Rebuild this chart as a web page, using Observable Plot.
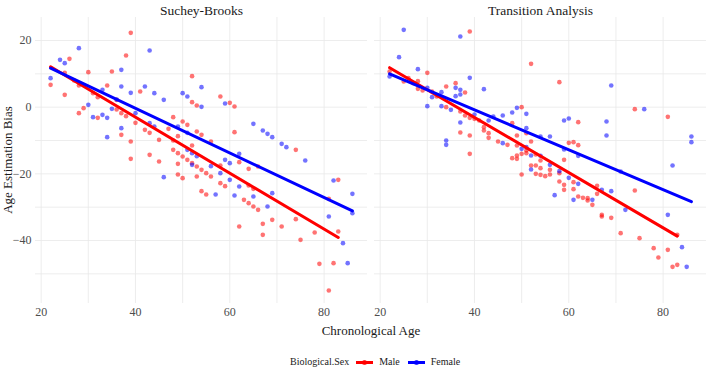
<!DOCTYPE html>
<html><head><meta charset="utf-8">
<script src="https://cdn.jsdelivr.net/npm/d3@7"></script>
<script src="https://cdn.jsdelivr.net/npm/@observablehq/plot@0.6"></script>
<style>
body{margin:0;background:#fff;}
#wrap{position:relative;width:709px;height:370px;font-family:"Liberation Serif","Times New Roman",serif;color:#1a1a1a;}
#xlab{position:absolute;left:271px;width:200px;top:324px;text-align:center;font-size:13px;line-height:14px;font-family:"Liberation Serif",serif;}
#ylab{position:absolute;left:-92px;width:200px;top:153px;text-align:center;font-size:13px;line-height:14px;transform:rotate(-90deg);font-family:"Liberation Serif",serif;}
#legend{position:absolute;left:290px;top:355px;height:14px;display:flex;align-items:center;font-size:10px;line-height:14px;color:#1a1a1a;white-space:nowrap;font-family:"Liberation Serif",serif;}
.sw{display:inline-block;position:relative;width:17px;height:3px;}
.sw i{position:absolute;left:6px;top:-1px;width:5px;height:5px;border-radius:50%;opacity:0.8;}
</style></head>
<body><div id="wrap"><div id="chart"></div>
<div id="xlab"></div><div id="ylab"></div><div id="legend"></div></div>
<script>
const methods = ["Suchey-Brooks", "Transition Analysis"];
const sexes = ["Male", "Female"];
const sexColors = ["red", "blue"];
const xTicks = [20, 40, 60, 80];
const yTicks = [20, 0, -20, -40];
const xLabel = "Chronological Age";
const yLabel = "Age Estimation Bias";
const legendTitle = "Biological.Sex";

// Suchey-Brooks
const sbMaleAge = [22,25,25,26,27,28,28,29,30,31,32,32,34,35,36,36,37,37,38,38,39,39,39,40,41,42,43,43,45,45,47,48,48,48,49,49,49,49,50,50,50,51,51,52,52,52,52,53,53,53,53,54,54,54,55,55,56,56,58,58,58,59,60,61,61,62,62,63,64,64,64,65,65,66,66,67,67,69,71,74,74,75,78,79,81,81,82,83,83];
const sbMaleBias = [6.7,10.3,3.7,14.5,8.0,6.5,-1.8,-0.3,10.5,4.2,3.0,-3.2,6.5,10.7,2.2,-0.7,-1.8,-8.3,15.5,-2.7,22.3,-10.3,-15.5,-4.7,4.7,-6.8,-7.7,-14.3,-9.8,-16.3,-6.5,-3.0,-10.0,-12.8,-8.7,-13.8,-17.0,-20.2,-4.3,-14.8,-21.3,-5.3,-15.8,9.3,1.5,-11.5,-16.8,0.5,-7.3,-17.8,-20.8,-8.3,-18.8,-25.2,-19.8,-26.2,-10.3,-20.8,3.2,-17.5,-22.8,-23.7,1.3,0.2,-7.5,-16.5,-35.8,-27.8,-18.5,-23.5,-28.8,-24.5,-29.8,-17.8,-30.8,-35.0,-38.3,-33.8,-35.8,-12.8,-33.6,-39.8,-37.6,-47.0,-27.5,-55.0,-46.8,-21.8,-37.3];
const sbFemaleAge = [22,24,25,28,30,31,33,33,34,34,35,36,37,37,37,39,40,42,43,43,44,44,46,46,49,50,51,51,51,52,52,53,54,54,56,57,58,59,59,60,60,61,62,62,65,65,67,68,68,69,69,71,72,76,81,82,84,85,86,86];
const sbFemaleBias = [8.7,14.2,13.2,17.7,0.7,-3.0,5.2,-2.3,-3.2,-9.0,-0.5,2.3,11.2,6.2,-6.3,4.3,-1.8,6.2,17.0,-4.8,4.2,-5.8,2.2,-21.0,-5.8,4.2,3.2,-7.7,-12.8,-13.8,-17.3,-14.7,6.0,0.1,-17.7,-26.2,-19.8,1.1,-15.8,-16.8,-21.8,-26.5,-14.0,-23.8,-5.0,-26.8,-7.0,-8.0,-29.8,-9.0,-25.8,-11.0,-12.0,-16.0,-32.8,-22.0,-40.8,-46.8,-26.0,-31.8];

// Transition Analysis
const taMaleAge = [22,25,26,27,28,28,29,30,31,32,34,34,36,37,37,38,38,39,39,39,39,40,41,42,42,43,43,45,47,48,48,49,49,49,49,50,50,50,51,51,51,52,52,52,53,53,53,54,54,54,55,56,56,58,58,58,59,59,59,60,61,61,61,62,62,62,63,64,64,65,66,66,67,67,69,71,74,74,75,78,79,81,81,82,83,83];
const taMaleBias = [10.7,7.7,8.7,7.2,7.8,5.5,5.0,10.3,4.7,3.2,6.2,0.0,7.2,-1.3,-7.6,4.4,-2.5,22.7,-3.2,-8.5,-14.0,-3.5,-4.0,-6.0,-7.0,-7.8,-9.2,-10.3,-11.3,-4.8,-15.3,-8.5,-11.5,-14.5,-15.5,0.0,-14.0,-20.2,-7.8,-13.0,-13.8,13.0,-10.3,-17.5,-14.2,-17.5,-20.0,-16.0,-18.3,-20.3,-20.7,-18.8,-20.2,7.5,-19.8,-22.3,-15.8,-23.3,-24.8,-10.7,-10.5,-22.5,-24.6,-4.5,-11.4,-26.8,-27.2,-27.3,-28.0,-29.3,-23.6,-26.0,-32.3,-32.8,-33.2,-37.8,-0.6,-25.0,-39.3,-42.3,-45.1,-2.9,-42.8,-47.9,-47.3,-38.3];
const taFemaleAge = [22,24,25,28,30,30,31,33,33,34,34,35,36,36,37,37,37,37,39,40,42,43,44,46,46,48,49,50,51,51,51,52,52,54,54,56,56,57,58,59,59,60,60,61,62,62,65,67,68,68,69,69,71,72,76,81,82,84,85,86,86];
const taFemaleBias = [9.2,15.0,23.2,11.4,5.8,0.3,3.0,4.5,0.3,-10.0,-11.3,-0.8,5.8,3.3,21.2,5.2,3.8,-4.6,8.8,-2.2,5.4,-4.0,-2.8,-2.5,-10.8,-1.6,-0.2,-12.5,-2.0,-6.3,-12.0,-14.5,-18.7,-8.8,-14.6,-8.8,-17.3,-26.4,-19.2,-4.0,-12.7,-3.4,-21.2,-27.8,-14.6,-23.0,-27.8,-24.8,-4.3,-8.5,6.5,-25.2,-19.3,-30.8,-0.6,-32.3,-17.5,-42.0,-47.9,-8.8,-10.5];

const series = [
  [methods[0], sexes[0], sbMaleAge, sbMaleBias],
  [methods[0], sexes[1], sbFemaleAge, sbFemaleBias],
  [methods[1], sexes[0], taMaleAge, taMaleBias],
  [methods[1], sexes[1], taFemaleAge, taFemaleBias]
];
const rows = series.flatMap(([method, sex, ages, biases]) =>
  ages.map((age, i) => ({method, sex, age, bias: biases[i]})));

const font = '"Liberation Serif","Times New Roman",serif';
const chart = Plot.plot({
  width: 709, height: 343,
  marginLeft: 35, marginRight: 3, marginTop: 17, marginBottom: 40,
  style: {fontFamily: font, background: "white"},
  fx: {domain: methods, paddingInner: 7 / 339, paddingOuter: 0, label: null},
  x: {domain: [18.8, 89.2], label: null},
  y: {domain: [-58.9, 26.9], label: null},
  color: {domain: sexes, range: sexColors},
  marks: [
    Plot.gridX(d3.range(20, 90, 10), {stroke: "#e8e8e8", strokeOpacity: 1, strokeWidth: 0.8}),
    Plot.gridY(d3.range(-50, 30, 10), {stroke: "#e8e8e8", strokeOpacity: 1, strokeWidth: 0.8}),
    Plot.axisX(xTicks, {tickSize: 0, tickPadding: 4, fontSize: 12, fontFamily: font, fill: "#4d4d4d", label: null}),
    Plot.axisY(yTicks, {tickSize: 0, tickPadding: 4, fontSize: 12, fontFamily: font, fill: "#4d4d4d", label: null}),
    Plot.axisFx({anchor: "top", tickSize: 0, tickPadding: 3, fontSize: 13.5, fontFamily: font, fill: "#1a1a1a", label: null}),
    Plot.dot(rows, {x: "age", y: "bias", fx: "method", fill: "sex", r: 2.3, fillOpacity: 0.55}),
    Plot.linearRegressionY(rows, {x: "age", y: "bias", fx: "method", stroke: "sex", strokeWidth: 3, ci: 0})
  ]
});
document.getElementById("chart").append(chart);
document.getElementById("xlab").textContent = xLabel;
document.getElementById("ylab").textContent = yLabel;
const leg = document.getElementById("legend");
const t = document.createElement("span"); t.textContent = legendTitle; t.style.marginRight = "7px"; leg.append(t);
sexes.forEach((s, i) => {
  const sw = document.createElement("span"); sw.className = "sw"; sw.style.background = sexColors[i]; sw.style.marginRight = "6px";
  const dot = document.createElement("i"); dot.style.background = sexColors[i]; sw.append(dot);
  const l = document.createElement("span"); l.textContent = s; l.style.marginRight = "8px";
  leg.append(sw, l);
});
</script></body></html>
